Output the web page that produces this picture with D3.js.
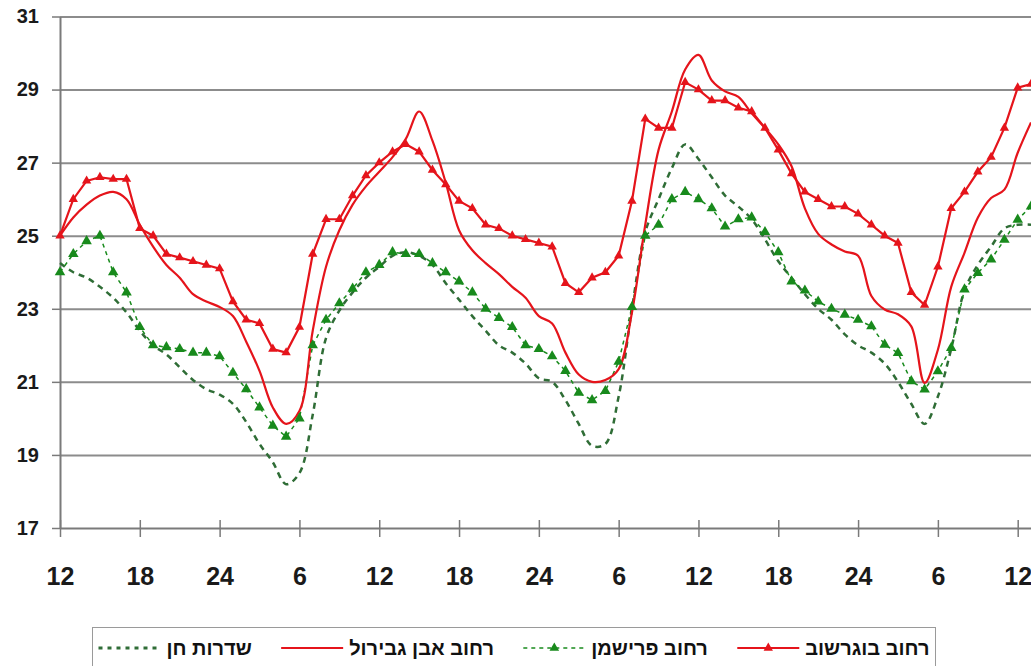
<!DOCTYPE html>
<html>
<head>
<meta charset="utf-8">
<script src="https://cdn.jsdelivr.net/npm/d3@7"></script>
<style>
  body { margin: 0; background: #fff; }
  svg { display: block; font-family: "Liberation Sans", Arial, sans-serif; font-weight: bold; }
</style>
</head>
<body>
<svg id="chart" width="1031" height="666"></svg>
<script>
// hourly readings, starting at 12:00 of the first day
const bograshov = [25.0,26.0,26.5,26.6,26.55,26.55,25.2,25.0,24.5,24.4,
  24.3,24.2,24.1,23.2,22.7,22.6,21.9,21.8,22.5,24.5,
  25.45,25.45,26.1,26.65,27.0,27.3,27.5,27.3,26.8,26.4,
  25.95,25.75,25.3,25.2,25.0,24.9,24.8,24.7,23.7,23.45,
  23.85,24.0,24.45,25.95,28.2,27.95,27.95,29.2,29.0,28.7,
  28.7,28.5,28.4,27.95,27.35,26.7,26.2,26.0,25.8,25.8,
  25.6,25.3,25.0,24.8,23.45,23.1,24.15,25.75,26.2,26.75,
  27.15,27.95,29.05,29.15]
const ibnGabirol = [25.0,25.5,25.85,26.1,26.2,26.0,25.3,24.7,24.2,23.85,
  23.4,23.2,23.05,22.8,22.1,21.3,20.3,19.85,20.2,22.4,
  24.15,25.15,25.85,26.35,26.75,27.15,27.65,28.4,27.6,26.45,
  25.15,24.6,24.25,23.95,23.6,23.3,22.8,22.6,21.8,21.2,
  21.0,21.05,21.35,22.9,25.3,27.35,28.4,29.55,29.95,29.25,
  28.95,28.8,28.35,27.95,27.5,26.9,25.75,25.05,24.76,24.57,
  24.45,23.35,22.98,22.85,22.52,20.97,21.88,23.6,24.53,25.49,
  26.03,26.26,27.27,28.1]
const frishman = [24.0,24.5,24.85,25.0,24.0,23.45,22.5,22.0,21.95,21.9,
  21.8,21.8,21.7,21.25,20.8,20.3,19.8,19.5,20.0,22.0,
  22.7,23.15,23.55,24.0,24.2,24.55,24.5,24.5,24.25,24.0,
  23.75,23.45,23.0,22.75,22.5,22.0,21.9,21.7,21.3,20.7,
  20.5,20.75,21.55,23.05,25.0,25.3,26.0,26.2,26.0,25.75,
  25.25,25.45,25.5,25.1,24.55,23.75,23.5,23.2,23.0,22.84,
  22.7,22.52,22.02,21.79,21.02,20.79,21.29,21.93,23.53,23.98,
  24.35,24.89,25.44,25.8]
const chen = [24.25,24.0,23.85,23.6,23.3,22.9,22.4,22.0,21.75,21.4,
  21.05,20.8,20.65,20.4,19.9,19.3,18.8,18.2,18.5,20.1,
  22.2,22.95,23.45,23.85,24.15,24.45,24.55,24.45,24.2,23.7,
  23.25,22.8,22.4,22.0,21.8,21.5,21.1,21.0,20.5,19.85,
  19.25,19.3,20.6,23.0,25.1,26.0,26.85,27.5,27.1,26.6,
  26.1,25.8,25.45,24.9,24.3,23.85,23.4,23.0,22.7,22.3,
  22.0,21.8,21.5,21.0,20.4,19.85,20.6,21.9,23.5,24.2,
  24.7,25.2,25.3,25.3]

const yTicks = [17, 19, 21, 23, 25, 27, 29, 31]
const xTickLabels = ['12','18','24','6','12','18','24','6','12','18','24','6','12']
const names = ['רחוב בוגרשוב', 'רחוב פרישמן', 'רחוב אבן גבירול', 'שדרות חן']

const RED = '#e5141b'
const GREEN = '#188a1c'
const DARKGREEN = '#2f6d36'

const W = 1031
const plotLeft = 60, plotTop = 16.5, plotBottom = 528
const svg = d3.select('#chart')

const hours = d3.range(bograshov.length)
const x = d3.scaleLinear().domain([0, hours.length - 1]).range([plotLeft, W])
const y = d3.scaleLinear().domain([17, 31]).range([plotBottom, plotTop])

// grid
svg.append('g')
  .attr('transform', 'translate(' + plotLeft + ',0)')
  .call(d3.axisLeft(y).tickValues(yTicks.slice(1)).tickSize(-(W - plotLeft)).tickFormat(''))
  .call(g => g.select('.domain').remove())
  .call(g => g.selectAll('line').attr('stroke', '#8c8c8c').attr('stroke-width', 2))

// y axis
svg.append('g')
  .attr('transform', 'translate(' + plotLeft + ',0)')
  .call(d3.axisLeft(y).tickValues(yTicks).tickSize(8).tickPadding(13).tickSizeOuter(0))
  .call(g => g.select('.domain').attr('stroke', '#7a7a7a').attr('stroke-width', 2))
  .call(g => g.selectAll('.tick line').attr('stroke', '#7a7a7a').attr('stroke-width', 1.5))
  .call(g => g.selectAll('text').attr('fill', '#1a1a1a').attr('font-size', 20)
    .attr('font-family', '"Liberation Sans", Arial, sans-serif').attr('font-weight', 'bold'))

// x axis
svg.append('g')
  .attr('transform', 'translate(0,' + plotBottom + ')')
  .call(d3.axisBottom(x).tickValues(d3.range(0, 73, 6)).tickSize(9).tickPadding(30).tickSizeOuter(0)
    .tickFormat((d, i) => xTickLabels[i]))
  .call(g => g.select('.domain').attr('stroke', '#7a7a7a').attr('stroke-width', 2))
  .call(g => g.selectAll('.tick line').attr('y1', -8).attr('stroke', '#7a7a7a').attr('stroke-width', 1.5))
  .call(g => g.selectAll('text').attr('fill', '#1a1a1a').attr('font-size', 25)
    .attr('font-family', '"Liberation Sans", Arial, sans-serif').attr('font-weight', 'bold'))

const straight = d3.line().x((d, i) => x(i)).y(d => y(d))
const smooth = d3.line().x((d, i) => x(i)).y(d => y(d)).curve(d3.curveCatmullRom.alpha(0.5))
const tri = d3.symbol().type(d3.symbolTriangle)

const plot = svg.append('g')

plot.append('path').datum(chen)
  .attr('d', smooth).attr('fill', 'none')
  .attr('stroke', DARKGREEN).attr('stroke-width', 2.5).attr('stroke-dasharray', '6,5')

plot.append('path').datum(frishman)
  .attr('d', straight).attr('fill', 'none')
  .attr('stroke', GREEN).attr('stroke-width', 1.5).attr('stroke-dasharray', '4,4')

plot.append('path').datum(ibnGabirol)
  .attr('d', smooth).attr('fill', 'none')
  .attr('stroke', RED).attr('stroke-width', 2.2)

plot.append('path').datum(bograshov)
  .attr('d', straight).attr('fill', 'none')
  .attr('stroke', RED).attr('stroke-width', 2.2)

plot.selectAll('.m-bog').data(bograshov).enter()
  .append('path').attr('class', 'm-bog')
  .attr('d', tri.size(38))
  .attr('transform', (d, i) => 'translate(' + x(i) + ',' + y(d) + ')')
  .attr('fill', RED)

plot.selectAll('.m-fri').data(frishman).enter()
  .append('path').attr('class', 'm-fri')
  .attr('d', tri.size(48))
  .attr('transform', (d, i) => 'translate(' + x(i) + ',' + y(d) + ')')
  .attr('fill', GREEN)

// legend, laid out right to left and spread across its box
const legend = svg.append('g')
const boxX = 92.5, boxW = 843
legend.append('rect')
  .attr('x', boxX).attr('y', 627.5).attr('width', boxW).attr('height', 50)
  .attr('fill', '#fff').attr('stroke', '#9a9a9a')

const samples = [
  { stroke: RED, dash: null, w: 2.2, marker: RED, size: 38 },
  { stroke: GREEN, dash: '4,4', w: 1.5, marker: GREEN, size: 40 },
  { stroke: RED, dash: null, w: 2.2, marker: null },
  { stroke: DARKGREEN, dash: '4,5', w: 3, marker: null }
]
const ly = 648
const sampleW = 62, textGap = 6
const texts = names.map(name => legend.append('text')
  .attr('y', ly + 7).attr('text-anchor', 'end')
  .attr('font-size', 20).attr('fill', '#111').text(name))
const widths = texts.map(t => t.node().getComputedTextLength())
const inner = (boxW - 12) - d3.sum(widths) - names.length * (sampleW + textGap)
const itemGap = inner / (names.length - 1)
let cursor = boxX + boxW - 6
names.forEach((name, i) => {
  texts[i].attr('x', cursor)
  const sx1 = cursor - widths[i] - textGap
  const sx0 = sx1 - sampleW
  const s = samples[i]
  legend.append('line')
    .attr('x1', sx0).attr('x2', sx1).attr('y1', ly).attr('y2', ly)
    .attr('stroke', s.stroke).attr('stroke-width', s.w)
    .attr('stroke-dasharray', s.dash)
  if (s.marker) {
    legend.append('path').attr('d', tri.size(s.size))
      .attr('transform', 'translate(' + ((sx0 + sx1) / 2) + ',' + ly + ')')
      .attr('fill', s.marker)
  }
  cursor = sx0 - itemGap
})
</script>
</body>
</html>
